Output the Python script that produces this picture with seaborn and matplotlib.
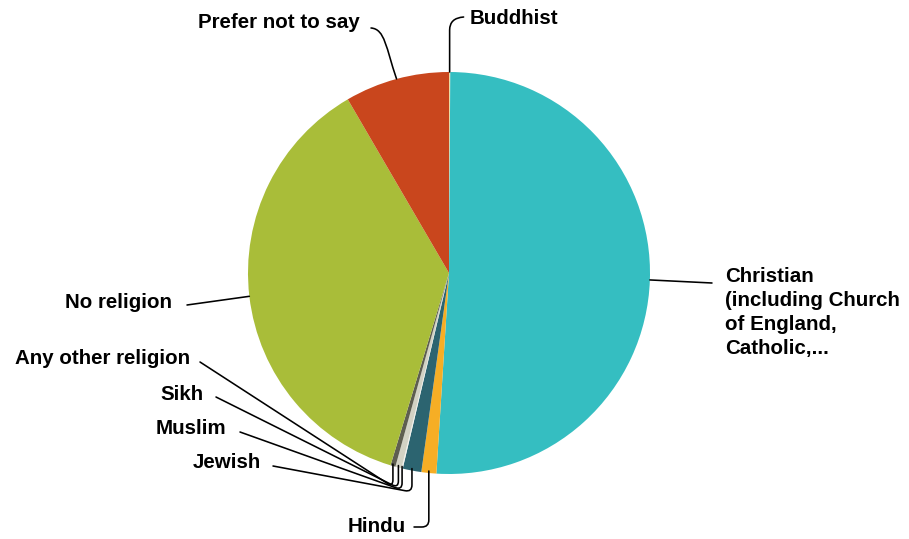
import numpy as np
import matplotlib
matplotlib.use("Agg")
import matplotlib.pyplot as plt
from matplotlib.path import Path
from matplotlib.patches import PathPatch
import seaborn as sns

# ---- data ----
categories = ["Buddhist", "Christian (including Church of England, Catholic,...",
              "Hindu", "Jewish", "Muslim", "Sikh", "Any other religion",
              "No religion", "Prefer not to say"]
labels = ["Buddhist", "Christian\n(including Church\nof England,\nCatholic,...",
          "Hindu", "Jewish", "Muslim", "Sikh", "Any other religion",
          "No religion", "Prefer not to say"]
values = [0.1, 50.9, 1.2, 1.5, 0.1, 0.5, 0.4, 36.9, 8.4]
colors = ["#E9DCA6", "#35BEC1", "#F6AE25", "#2C6470", "#F2F2EC", "#D2D2C4",
          "#5E5E50", "#A9BD39", "#C9461D"]

sns.set_theme(style="white")
plt.rcParams["font.family"] = ["Liberation Sans", "DejaVu Sans"]

W, H = 909, 539
fig = plt.figure(figsize=(W / 100, H / 100), dpi=100)
ax = fig.add_axes([0, 0, 1, 1])
palette = sns.color_palette(colors)

cx, cy_px, R = 449, 273, 201
wedges, _ = ax.pie(values, colors=palette, startangle=90, counterclock=False,
                   center=(cx, H - cy_px), radius=R,
                   wedgeprops=dict(linewidth=0, antialiased=True))
ax.set_xlim(0, W)
ax.set_ylim(0, H)
ax.set_aspect("equal")
ax.axis("off")


def edge_point(w):
    mid = np.deg2rad((w.theta1 + w.theta2) / 2)
    return (cx + R * np.cos(mid), cy_px - R * np.sin(mid))  # pixel coords


def draw(points, codes):
    verts = [(x, H - y) for x, y in points]
    ax.add_patch(PathPatch(Path(verts, codes), fill=False, lw=1.15,
                           edgecolor="black", capstyle="round", joinstyle="round"))


FS = 14.8
TXT = dict(fontsize=FS, fontweight="bold", color="black", va="center")


def text(x, y, s, ha):
    ax.text(x, H - y, s, ha=ha, **TXT)


ep = {c: edge_point(w) for c, w in zip(categories, wedges)}

# Buddhist (top)
ex, ey = ep["Buddhist"]
draw([(ex, ey), (ex, 30), (ex, 18), (ex + 14, 17)],
     [Path.MOVETO, Path.LINETO, Path.CURVE3, Path.CURVE3])
text(470, 18, labels[0], "left")

# Prefer not to say
ex, ey = ep["Prefer not to say"]
draw([(371, 28), (385, 29), (386, 48), (ex, ey)],
     [Path.MOVETO, Path.CURVE4, Path.CURVE4, Path.CURVE4])
text(360, 22, labels[8], "right")

# Christian
ex, ey = ep[categories[1]]
draw([(ex, ey), (712, 283)], [Path.MOVETO, Path.LINETO])
ax.text(725, H - 267, labels[1], ha="left", va="top", fontsize=FS,
        fontweight="bold", color="black", linespacing=1.33)

# No religion
ex, ey = ep["No religion"]
draw([(ex, ey), (187, 305)], [Path.MOVETO, Path.LINETO])
text(172, 302, labels[7], "right")

# small bottom slices
small = [("Any other religion", labels[6], (190, 359), (200, 362), 487),
         ("Sikh", labels[5], (204, 394), (216, 397), 488),
         ("Muslim", labels[4], (226, 428), (240, 432), 490),
         ("Jewish", labels[3], (261, 462), (273, 466), 492)]
for cat, lab, tpos, start, corner_y in small:
    ex, ey = ep[cat]
    sx, sy = start
    C = np.array([ex, corner_y])
    d = np.array([sx, sy]) - C
    d = d / np.hypot(*d)
    rc = 7
    P1 = C + d * rc
    P2 = C + np.array([0, -rc])
    draw([(sx, sy), tuple(P1), tuple(C), tuple(P2), (ex, ey - 2)],
         [Path.MOVETO, Path.LINETO, Path.CURVE3, Path.CURVE3, Path.LINETO])
    text(tpos[0], tpos[1], lab, "right")

# Hindu
ex, ey = ep["Hindu"]
draw([(414, 527), (ex - 7, 527), (ex, 527), (ex, 520), (ex, ey - 2)],
     [Path.MOVETO, Path.LINETO, Path.CURVE3, Path.CURVE3, Path.LINETO])
text(406, 526, labels[2], "right")

fig.savefig("out.png", dpi=100, facecolor="white")
